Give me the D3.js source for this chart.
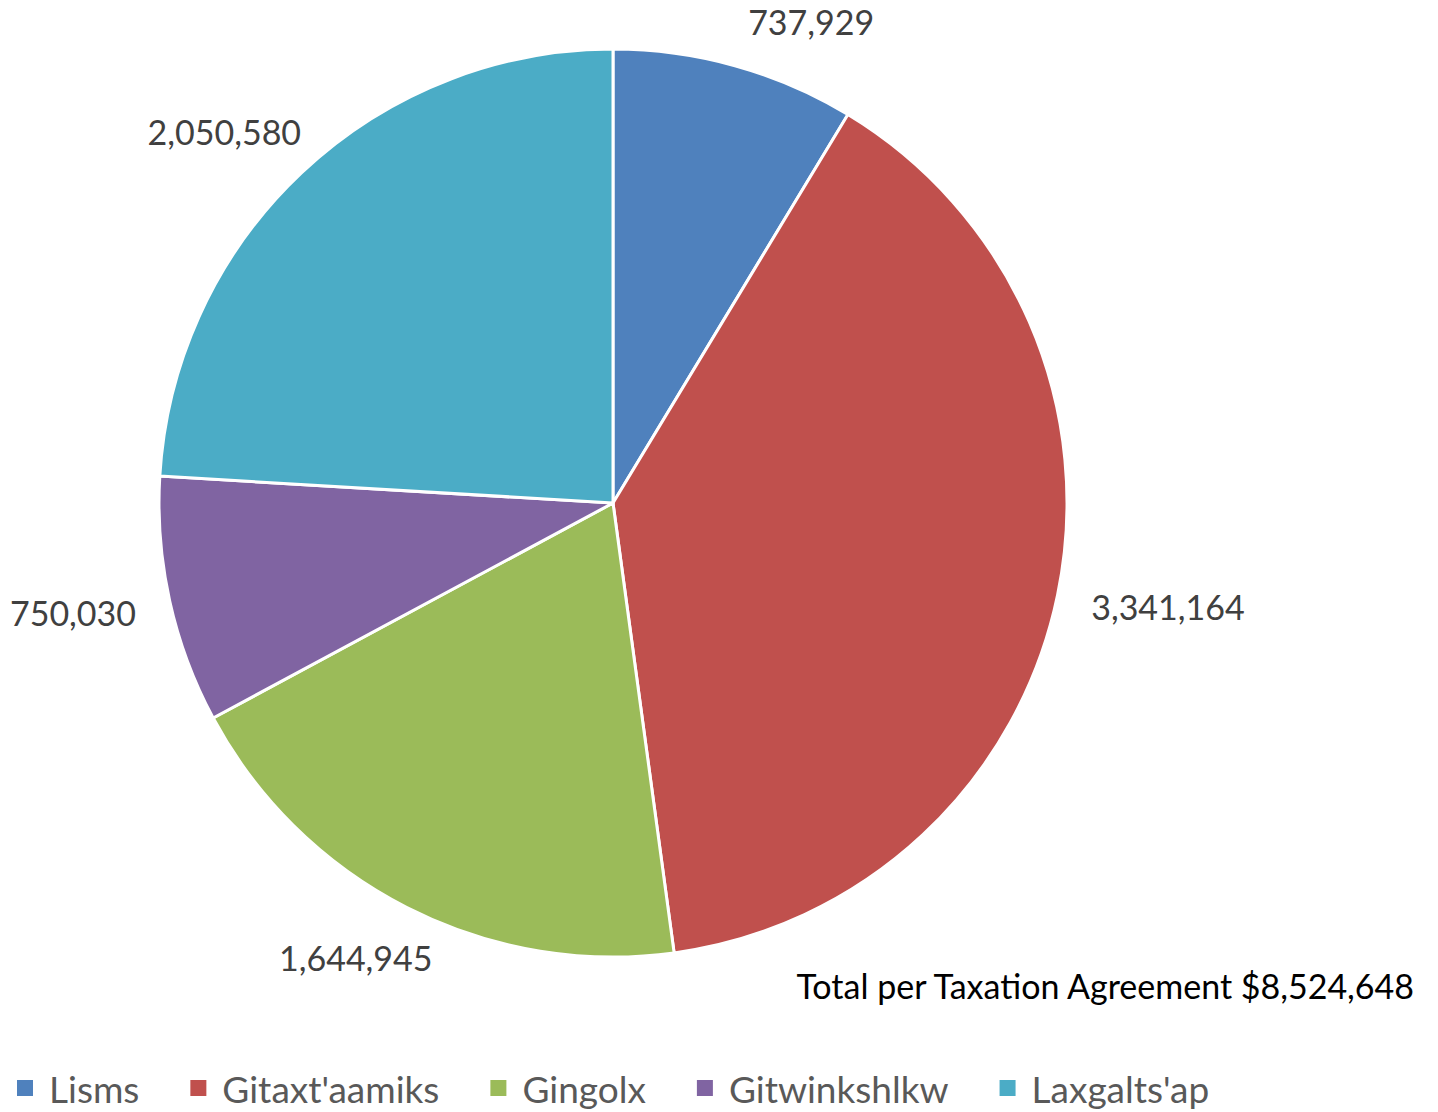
<!DOCTYPE html>
<html>
<head>
<meta charset="utf-8">
<script src="https://cdn.jsdelivr.net/npm/d3@7"></script>
<style>
  html, body { margin: 0; padding: 0; background: #fff; }
  svg { display: block; }
  text { font-family: Lato, "Open Sans", sans-serif; }
</style>
</head>
<body>
<svg id="chart" width="1438" height="1112"></svg>
<script>
// Tax revenue by village (Nisga'a Lisims Government taxation agreement)
const categories = ["Lisms", "Gitaxt'aamiks", "Gingolx", "Gitwinkshlkw", "Laxgalts'ap"];
const values = [737929, 3341164, 1644945, 750030, 2050580];
const colors = ["#4F81BD", "#C0504D", "#9BBB59", "#8064A2", "#4BACC6"];
const totalLabel = "Total per Taxation Agreement $8,524,648";

const width = 1438, height = 1112;
const cx = 613, cy = 503, radius = 454;
const labelGap = 36;

const svg = d3.select("#chart");
const fmt = d3.format(",");

const data = categories.map((c, i) => ({ name: c, value: values[i], color: colors[i] }));

const pie = d3.pie().value(d => d.value).sort(null);
const arc = d3.arc().innerRadius(0).outerRadius(radius);
const arcs = pie(data);

const g = svg.append("g").attr("transform", `translate(${cx},${cy})`);

g.selectAll("path.slice")
  .data(arcs)
  .join("path")
  .attr("class", "slice")
  .attr("d", arc)
  .attr("fill", d => d.data.color)
  .attr("stroke", "#fff")
  .attr("stroke-width", 3)
  .attr("stroke-linejoin", "round");

// Value labels placed just outside each slice, offset by half the label box;
// a label that would leave the top edge is held inside and slid sideways
const labels = g.selectAll("text.val")
  .data(arcs)
  .join("text")
  .attr("class", "val")
  .attr("font-size", 34)
  .attr("fill", "#404040")
  .attr("text-anchor", "middle")
  .attr("dominant-baseline", "central")
  .text(d => fmt(d.data.value));

labels.each(function(d) {
  const a = (d.startAngle + d.endAngle) / 2;
  const s = Math.sin(a), c = -Math.cos(a);
  const bb = this.getBBox();
  const w = bb.width, h = bb.height;
  const r = radius + labelGap;
  let x = r * s + (w / 2) * s;
  let y = r * c + (h / 2) * c;
  const minY = -cy + h / 2 + 1;
  if (y < minY) {
    y = minY;
    const cornerY = y + h / 2 - 10;
    const dx = Math.sqrt(Math.max(0, r * r - cornerY * cornerY));
    x = Math.sign(s) * (dx + w / 2);
  }
  d3.select(this).attr("x", x).attr("y", y);
});

// Total note
svg.append("text")
  .attr("x", 1414)
  .attr("y", 999)
  .attr("text-anchor", "end")
  .attr("font-size", 34)
  .attr("fill", "#000")
  .text(totalLabel);

// Legend
const legend = svg.append("g").attr("transform", "translate(17,1088)");
let lx = 0;
data.forEach(d => {
  const item = legend.append("g").attr("transform", `translate(${lx},0)`);
  item.append("rect")
    .attr("x", 0).attr("y", -8)
    .attr("width", 16).attr("height", 16)
    .attr("fill", d.color);
  const t = item.append("text")
    .attr("x", 32)
    .attr("y", 0)
    .attr("dominant-baseline", "central")
    .attr("font-size", 37)
    .attr("fill", "#595959")
    .text(d.name);
  lx += 32 + t.node().getComputedTextLength() + 51;
});
</script>
</body>
</html>
